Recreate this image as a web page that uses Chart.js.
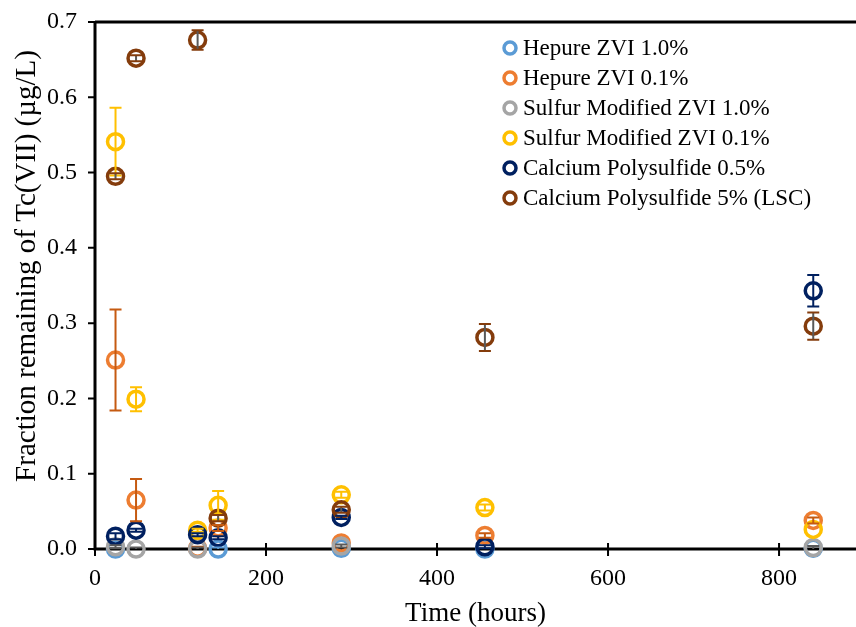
<!DOCTYPE html>
<html>
<head>
<meta charset="utf-8">
<script src="https://cdn.jsdelivr.net/npm/chart.js@4.4.1/dist/chart.umd.min.js"></script>
<style>
  html, body { margin: 0; padding: 0; background: #ffffff; }
</style>
</head>
<body>
<canvas id="tc" width="856" height="627"></canvas>
<script>
// sampling times (hours)
const hours = [24, 48, 120, 144, 288, 456, 840];

const seriesNames = [
  "Hepure ZVI 1.0%",
  "Hepure ZVI 0.1%",
  "Sulfur Modified ZVI 1.0%",
  "Sulfur Modified ZVI 0.1%",
  "Calcium Polysulfide 0.5%",
  "Calcium Polysulfide 5% (LSC)",
];

// Tc(VII) remaining (µg/L), one array per treatment
const hepure10 = [0.000, null, null, 0.000, 0.001, 0.000, 0.001];
const hepure01 = [0.251, 0.065, 0.001, 0.028, 0.008, 0.018, 0.038];
const smzvi10 = [0.003, 0.000, 0.000, null, 0.004, null, 0.002];
const smzvi01 = [0.541, 0.199, 0.025, 0.058, 0.072, 0.055, 0.026];
const cps05 = [0.017, 0.025, 0.019, 0.015, 0.042, 0.003, 0.343];
const cps5 = [0.495, 0.652, 0.676, 0.041, 0.052, 0.281, 0.296];

// standard deviations for error bars
const hepure10Err = [0, 0, 0, 0.002, 0, 0, 0];
const hepure01Err = [0.067, 0.028, 0.002, 0.004, 0, 0.003, 0.004];
const smzvi10Err = [0.002, 0.002, 0.002, 0, 0.002, 0, 0.002];
const smzvi01Err = [0.045, 0.016, 0.002, 0.019, 0.004, 0.004, 0];
const cps05Err = [0.004, 0.002, 0.002, 0.002, 0.002, 0.002, 0.021];
const cps5Err = [0.004, 0.004, 0.013, 0.004, 0.004, 0.018, 0.018];

const markerColors = ["#5B9BD5", "#ED7D31", "#A5A5A5", "#FFC000", "#002060", "#843C0C"];
const stemColors = ["#5B9BD5", "#C55A11", "#595959", "#FFC000", "#002060", "#595959"];
const capColors = ["#5B9BD5", "#C55A11", "#595959", "#FFC000", "#002060", "#843C0C"];

const values = [hepure10, hepure01, smzvi10, smzvi01, cps05, cps5];
const errors = [hepure10Err, hepure01Err, smzvi10Err, smzvi01Err, cps05Err, cps5Err];

const yTitle = "Fraction remaining of Tc(VII) (µg/L)";
const serif = "'Liberation Serif', 'Times New Roman', serif";

const datasets = values.map((vals, i) => ({
  label: seriesNames[i],
  data: hours.map((h, j) => ({ x: h, y: vals[j] })).filter((p) => p.y !== null),
  err: hours.map((h, j) => errors[i][j]).filter((e, j) => vals[j] !== null),
  borderColor: markerColors[i],
  backgroundColor: "rgba(0,0,0,0)",
  pointStyle: "circle",
  pointRadius: 8,
  pointHoverRadius: 8,
  pointBorderWidth: 3.5,
  showLine: false,
  clip: false,
  // later series sit on top
  order: values.length - i,
}));

//axis lines, box top, tick marks and the y title
const frame = {
  id: "frame",
  beforeDatasetsDraw(chart) {
    const { ctx, chartArea: a, scales } = chart;
    ctx.save();
    ctx.strokeStyle = "#000000";
    ctx.lineWidth = 3;
    ctx.beginPath();
    ctx.moveTo(a.left, a.top);
    ctx.lineTo(a.right, a.top);
    ctx.moveTo(a.left, a.top);
    ctx.lineTo(a.left, a.bottom);
    ctx.lineTo(a.right, a.bottom);
    ctx.stroke();
    ctx.lineWidth = 2;
    ctx.beginPath();
    scales.y.ticks.forEach((t) => {
      const y = scales.y.getPixelForValue(t.value);
      ctx.moveTo(a.left - 7, y);
      ctx.lineTo(a.left, y);
    });
    scales.x.ticks.forEach((t) => {
      const x = scales.x.getPixelForValue(t.value);
      ctx.moveTo(x, a.bottom - 6);
      ctx.lineTo(x, a.bottom + 7);
    });
    ctx.stroke();

    ctx.translate(27, 266);
    ctx.rotate(-Math.PI / 2);
    ctx.font = "29px " + serif;
    ctx.fillStyle = "#000000";
    ctx.textAlign = "center";
    ctx.textBaseline = "middle";
    ctx.fillText(yTitle, 0, 0);
    ctx.restore();
  },
};

//vertical error bars with caps
const errorBars = {
  id: "errorBars",
  afterDatasetsDraw(chart) {
    const { ctx, scales } = chart;
    ctx.save();
    ctx.lineWidth = 2;
    chart.data.datasets.forEach((ds, i) => {
      const meta = chart.getDatasetMeta(i);
      meta.data.forEach((pt, j) => {
        const e = ds.err[j];
        if (!e) return;
        const v = ds.data[j].y;
        const top = scales.y.getPixelForValue(v + e);
        const bot = scales.y.getPixelForValue(Math.max(v - e, 0));
        ctx.strokeStyle = stemColors[i];
        ctx.beginPath();
        ctx.moveTo(pt.x, top);
        ctx.lineTo(pt.x, bot);
        ctx.stroke();
        ctx.strokeStyle = capColors[i];
        ctx.beginPath();
        ctx.moveTo(pt.x - 6, top);
        ctx.lineTo(pt.x + 6, top);
        if (v - e > 0) {
          ctx.moveTo(pt.x - 6, bot);
          ctx.lineTo(pt.x + 6, bot);
        }
        ctx.stroke();
      });
    });
    ctx.restore();
  },
};

//legend inside the plot, upper right
const innerLegend = {
  id: "innerLegend",
  afterDraw(chart) {
    const { ctx } = chart;
    ctx.save();
    ctx.font = "23px " + serif;
    ctx.textBaseline = "middle";
    ctx.fillStyle = "#000000";
    chart.data.datasets.forEach((ds, i) => {
      const y = 48 + i * 30;
      ctx.strokeStyle = markerColors[i];
      ctx.lineWidth = 3.5;
      ctx.beginPath();
      ctx.arc(510, y, 6, 0, Math.PI * 2);
      ctx.stroke();
      ctx.fillText(ds.label, 523, y + 1);
    });
    ctx.restore();
  },
};

new Chart(document.getElementById("tc"), {
  type: "scatter",
  data: { datasets: datasets },
  plugins: [frame, errorBars, innerLegend],
  options: {
    responsive: false,
    animation: false,
    layout: { autoPadding: false, padding: { top: 22, right: 0, left: 0, bottom: 0 } },
    plugins: {
      legend: { display: false },
      tooltip: { enabled: false },
    },
    scales: {
      x: {
        type: "linear",
        min: 0,
        max: 890,
        grid: { display: false, drawTicks: false },
        border: { display: false },
        ticks: {
          stepSize: 200,
          includeBounds: false,
          color: "#000000",
          padding: 15,
          font: { family: serif, size: 24 },
        },
        title: {
          display: true,
          text: "Time (hours)",
          color: "#000000",
          font: { family: serif, size: 27 },
          padding: { top: 0, bottom: -3 },
        },
        afterFit(scale) {
          scale.height = 78;
          scale.paddingLeft = 0;
          scale.paddingRight = 0;
        },
      },
      y: {
        min: 0,
        max: 0.7,
        grid: { display: false, drawTicks: false },
        border: { display: false },
        ticks: {
          stepSize: 0.1,
          color: "#000000",
          padding: 18,
          font: { family: serif, size: 24 },
          callback: (v) => v.toFixed(1),
        },
        afterFit(scale) {
          scale.width = 95;
          scale.paddingTop = 0;
          scale.paddingBottom = 0;
        },
      },
    },
  },
});
</script>
</body>
</html>
